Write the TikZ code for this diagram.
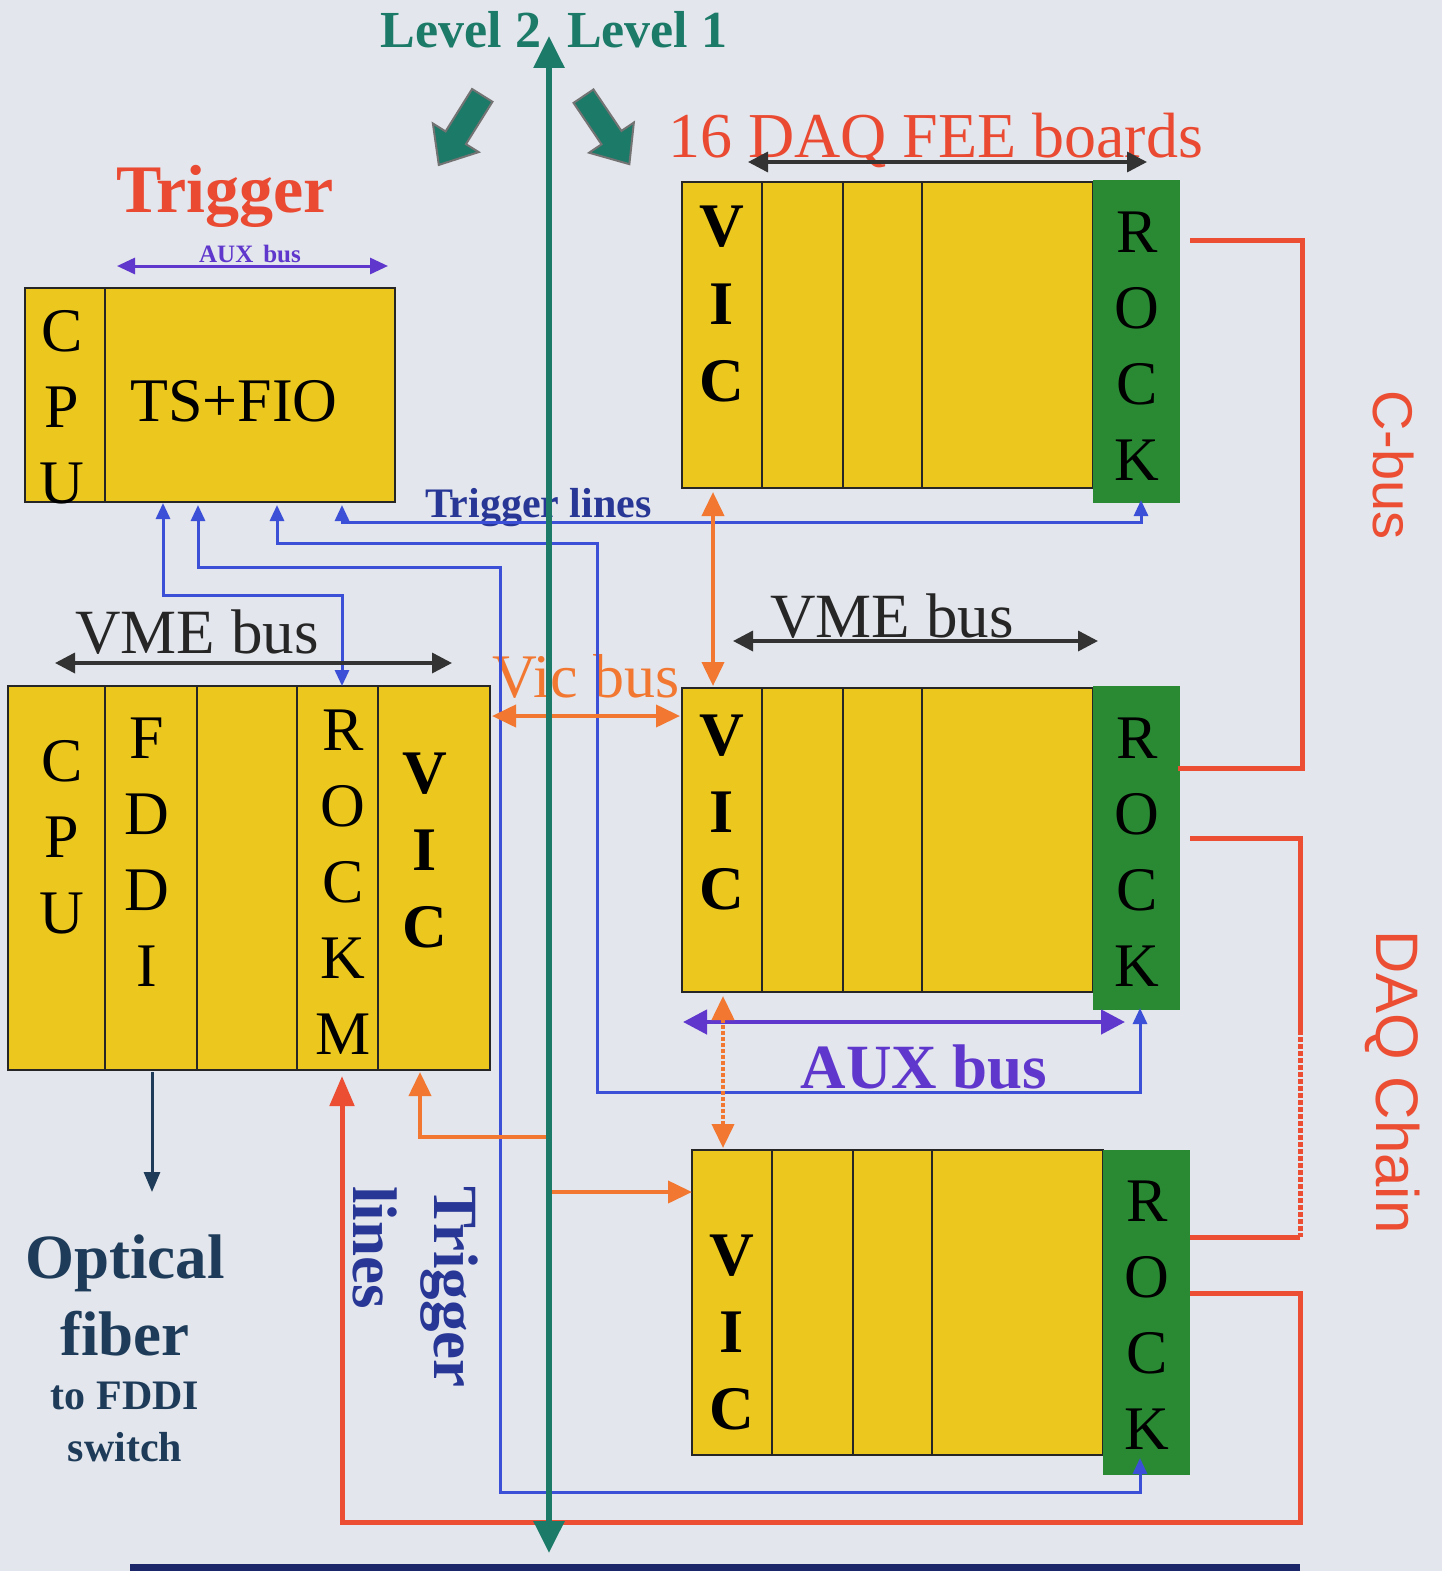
\documentclass[tikz,border=0pt]{standalone}
\usepackage{fontspec}
\setmainfont{Liberation Serif}
\newfontfamily\labelsans{Liberation Sans}
\usetikzlibrary{arrows.meta}

\definecolor{bgcol}{RGB}{227,230,236}
\definecolor{boardyellow}{RGB}{236,200,30}
\definecolor{rockgreen}{RGB}{42,138,52}
\definecolor{levelteal}{RGB}{28,122,104}
\definecolor{titlered}{RGB}{234,74,50}
\definecolor{chainred}{RGB}{236,78,52}
\definecolor{vicorange}{RGB}{242,120,50}
\definecolor{trigblue}{RGB}{60,80,215}
\definecolor{trigtext}{RGB}{40,55,150}
\definecolor{auxpurple}{RGB}{95,55,205}
\definecolor{fibernavy}{RGB}{30,60,90}

\begin{document}
\begin{tikzpicture}[x=1pt, y=-1pt,
  every node/.style={inner sep=0pt, outer sep=0pt},
  crate/.style={draw=black!85, line width=2.5pt, fill=boardyellow, anchor=north west},
  rockboard/.style={fill=rockgreen, anchor=north west},
  divider/.style={draw=black!85, line width=1.6pt},
  slotlab/.style={align=center, font=\fontsize{62}{76}\selectfont},
  viclab/.style={align=center, font=\bfseries\fontsize{62}{77}\selectfont},
  vmebus/.style={draw=black!80, line width=3.5pt, {Triangle[length=20pt,width=20pt]}-{Triangle[length=20pt,width=20pt]}},
  auxbus/.style={draw=auxpurple, line width=4.5pt, {Triangle[length=24pt,width=24pt]}-{Triangle[length=24pt,width=24pt]}},
  vicbus/.style={draw=vicorange, line width=4pt},
  trigline/.style={draw=trigblue, line width=3pt, {Triangle[length=16pt,width=14pt]}-{Triangle[length=16pt,width=14pt]}},
  chain/.style={draw=chainred, line width=5pt},
  blockarrow/.style={fill=levelteal, draw=black!55, line width=2pt}
]
  \useasboundingbox (0,0) rectangle (1442,1571);
  \fill[bgcol] (0,0) rectangle (1442,1571);

  % Trigger crate
  \node[crate, minimum width=370pt, minimum height=214pt] (trig) at (25,288) {};
  \draw[divider] (105,288) -- (105,502);
  \node[slotlab] (tcpu) at (62,407) {C\\P\\U};
  \node[font=\fontsize{62}{75}\selectfont, anchor=base] (tsfio) at (234,421) {TS+FIO};

  % Main crate
  \node[crate, minimum width=482pt, minimum height=384pt] (mcrate) at (8,686) {};
  \foreach \x in {105,197,297,378} \draw[divider] (\x,686) -- (\x,1070);
  \node[slotlab] (mcpu) at (62,837) {C\\P\\U};
  \node[slotlab] (mfddi) at (147,852) {F\\D\\D\\I};
  \node[slotlab] (mrockm) at (343,882) {R\\O\\C\\K\\M};
  \node[viclab] (mvic) at (425,850) {V\\I\\C};

  % DAQ FEE crates
  \node[crate, minimum width=411pt, minimum height=306pt] (fee1) at (682,182) {};
  \foreach \x in {762,843,922} \draw[divider] (\x,182) -- (\x,488);
  \node[rockboard, minimum width=87pt, minimum height=323pt] (rock1) at (1093,180) {};
  \node[crate, minimum width=411pt, minimum height=304pt] (fee2) at (682,688) {};
  \foreach \x in {762,843,922} \draw[divider] (\x,688) -- (\x,992);
  \node[rockboard, minimum width=87pt, minimum height=324pt] (rock2) at (1093,686) {};
  \node[crate, minimum width=411pt, minimum height=305pt] (fee3) at (692,1150) {};
  \foreach \x in {772,853,932} \draw[divider] (\x,1150) -- (\x,1455);
  \node[rockboard, minimum width=87pt, minimum height=325pt] (rock3) at (1103,1150) {};
  \node[viclab] (vic1) at (722,304) {V\\I\\C};
  \node[slotlab] (rk1lab) at (1137,346) {R\\O\\C\\K};
  \node[viclab] (vic2) at (722,812) {V\\I\\C};
  \node[slotlab] (rk2lab) at (1137,852) {R\\O\\C\\K};
  \node[viclab] (vic3) at (732,1332) {V\\I\\C};
  \node[slotlab] (rk3lab) at (1147,1315) {R\\O\\C\\K};

  % Labels
  \node[font=\bfseries\fontsize{52}{60}\selectfont, text=levelteal, anchor=base east] (lvtwo) at (541,48) {Level 2};
  \node[font=\bfseries\fontsize{52}{60}\selectfont, text=levelteal, anchor=base west] (lvone) at (567,48) {Level 1};
  \node[font=\bfseries\fontsize{68}{80}\selectfont, text=titlered, anchor=base] (trigtitle) at (225,212) {Trigger};
  \node[font=\bfseries\fontsize{25}{30}\selectfont, text=auxpurple, anchor=base] (auxsmall) at (250,262) {AUX\hspace{10pt}bus};
  \node[font=\fontsize{64}{76}\selectfont, text=titlered, anchor=base west] (feetitle) at (668,157) {16 DAQ FEE boards};
  \node[font=\fontsize{63}{75}\selectfont, text=black!85, anchor=base] (vmeleft) at (197,653) {VME bus};
  \node[font=\fontsize{63}{75}\selectfont, text=black!85, anchor=base] (vmeright) at (892,637) {VME bus};
  \node[font=\fontsize{62}{75}\selectfont, text=vicorange, anchor=base west] (viclabel) at (492,697) {Vic bus};
  \node[font=\bfseries\fontsize{63}{75}\selectfont, text=auxpurple, anchor=base] (auxbig) at (924,1088) {AUX bus};
  \node[font=\bfseries\fontsize{42}{50}\selectfont, text=trigtext, anchor=base west] (trlinesh) at (425,517) {Trigger lines};
  \node[font=\bfseries\fontsize{63}{81}\selectfont, text=trigtext, align=left, rotate=-90] (trlinesv) at (416,1287) {Trigger\\lines};
  \node[font=\labelsans\fontsize{56}{66}\selectfont, text=chainred, rotate=-90] (cbus) at (1393,465) {C-bus};
  \node[font=\labelsans\fontsize{60}{70}\selectfont, text=chainred, rotate=-90] (daqchain) at (1393,1082) {DAQ Chain};
  \node[font=\bfseries\fontsize{63}{77}\selectfont, text=fibernavy, align=center] (optfiber) at (125,1295) {Optical\\fiber};
  \node[font=\bfseries\fontsize{42}{52}\selectfont, text=fibernavy, align=center] (fddisw) at (125,1422) {to FDDI\\switch};

  % Connection points
  \coordinate (tr1) at (163,503);
  \coordinate (tr2) at (198,505);
  \coordinate (tr3) at (277,505);
  \coordinate (tr4) at (342,505);
  \coordinate (rk1) at (1141,500);
  \coordinate (rk2) at (1140,1008);
  \coordinate (rk3) at (1140,1458);
  \coordinate (rmtop) at (342,686);
  \coordinate (rmbot) at (342,1076);

  % Trigger lines
  \draw[trigline] (tr4) -- ++(0,17) -| (rk1);
  \draw[trigline] (tr3) |- (597,543) |- (1140,1092) -- (rk2);
  \draw[trigline] (tr2) |- (500,567) |- (1140,1492) -- (rk3);
  \draw[trigline] (tr1) -- ++(0,92) -| (rmtop);

  % C-bus and DAQ chain
  \coordinate (cb1) at (1190,240);
  \coordinate (cb2) at (1178,768);
  \coordinate (dq1) at (1190,838);
  \coordinate (dqa) at (1300,1030);
  \coordinate (dqb) at (1300,1237);
  \coordinate (dq2) at (1190,1237);
  \coordinate (dq3) at (1190,1293);
  \draw[chain] (cb1) -- ++(112,0) |- (cb2);
  \draw[chain] (dq1) -| (dqa);
  \draw[chain, dotted] (dqa) -- (dqb);
  \draw[chain] (dqb) -- (dq2);
  \draw[chain, -{Triangle[length=30pt,width=24pt]}] (dq3) -| (1300,1522) -| (rmbot);

  % Buses
  \coordinate (auxtA) at (117,266);
  \coordinate (auxtB) at (388,266);
  \coordinate (vmeA) at (55,663);
  \coordinate (vmeB) at (452,663);
  \coordinate (vmeC) at (733,641);
  \coordinate (vmeD) at (1098,641);
  \coordinate (vmeE) at (748,162);
  \coordinate (vmeF) at (1147,162);
  \coordinate (auxA) at (683,1022);
  \coordinate (auxB) at (1125,1022);
  \draw[draw=auxpurple, line width=3pt, {Triangle[length=18pt,width=16pt]}-{Triangle[length=18pt,width=16pt]}] (auxtA) -- (auxtB);
  \draw[vmebus] (vmeA) -- (vmeB);
  \draw[vmebus] (vmeC) -- (vmeD);
  \draw[vmebus] (vmeE) -- (vmeF);
  \draw[auxbus] (auxA) -- (auxB);

  % Vic bus
  \coordinate (vicA) at (492,716);
  \coordinate (vicB) at (680,716);
  \coordinate (vicC) at (713,492);
  \coordinate (vicD) at (713,686);
  \coordinate (vicE) at (723,996);
  \coordinate (vicF) at (723,1148);
  \coordinate (tapA) at (547,1137);
  \coordinate (tapB) at (551,1192);
  \coordinate (vicM) at (420,1072);
  \draw[vicbus, {Triangle[length=24pt,width=22pt]}-{Triangle[length=24pt,width=22pt]}] (vicA) -- (vicB);
  \draw[vicbus, {Triangle[length=24pt,width=22pt]}-{Triangle[length=24pt,width=22pt]}] (vicC) -- (vicD);
  \draw[vicbus, dotted, {Triangle[length=24pt,width=22pt]}-{Triangle[length=24pt,width=22pt]}] (vicE) -- (vicF);
  \draw[vicbus, -{Triangle[length=24pt,width=22pt]}] (tapA) -| (vicM);
  \draw[vicbus, -{Triangle[length=24pt,width=22pt]}] (tapB) -- (fee3.west |- tapB);

  % Optical fiber out of the FDDI board
  \coordinate (fd1) at (152,1072);
  \coordinate (fd2) at (152,1192);
  \draw[draw=fibernavy, line width=3pt, -{Triangle[length=20pt,width=16pt]}] (fd1) -- (fd2);

  % Level 1 / Level 2 line and block arrows
  \coordinate (lvtop) at (549,36);
  \coordinate (lvbot) at (549,1553);
  \draw[draw=levelteal, line width=6pt, {Triangle[length=32pt,width=30pt]}-{Triangle[length=32pt,width=30pt]}] (lvbot) -- (lvtop);
  \coordinate (blkL) at (460,131);
  \coordinate (blkR) at (607,131);
  \draw[blockarrow, shift={(blkL)}, rotate=238] (-42,-12) -- (8,-12) -- (8,-27) -- (40,0) -- (8,27) -- (8,12) -- (-42,12) -- cycle;
  \draw[blockarrow, shift={(blkR)}, rotate=-56] (-42,-12) -- (8,-12) -- (8,-27) -- (40,0) -- (8,27) -- (8,12) -- (-42,12) -- cycle;

  % bar along the bottom edge
  \coordinate (barL) at (130,1567);
  \coordinate (barR) at (1300,1567);
  \draw[draw=black!30!trigtext, line width=7pt] (barL) -- (barR);
\end{tikzpicture}
\end{document}
